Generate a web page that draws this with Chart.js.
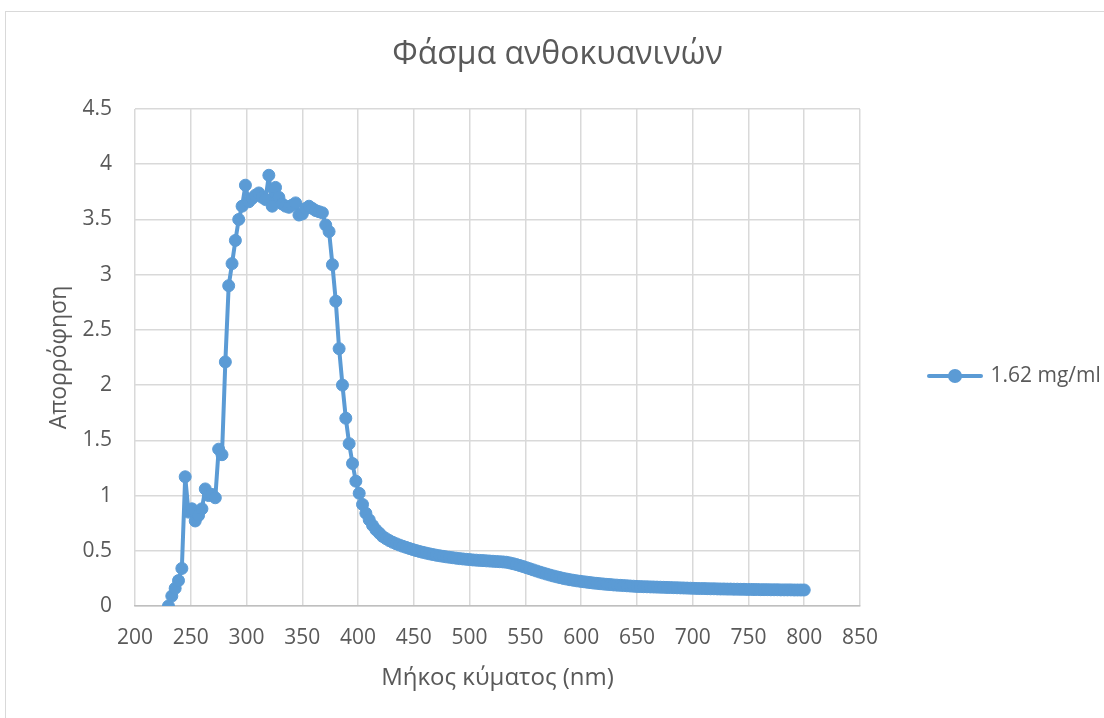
<!DOCTYPE html>
<html>
<head>
<meta charset="utf-8">
<script src="https://cdn.jsdelivr.net/npm/chart.js@4.4.1/dist/chart.umd.min.js"></script>
<style>
  html, body { margin: 0; padding: 0; background: #ffffff; overflow: hidden; }
  #wrap { position: relative; width: 1104px; height: 718px; }
  #frame { position: absolute; left: 5px; top: 11px; width: 1200px; height: 800px; border: 1px solid #d9d9d9; box-sizing: border-box; }
  #c { position: absolute; left: 0; top: 0; }
</style>
</head>
<body>
<div id="wrap">
  <div id="frame"></div>
  <canvas id="c" width="1104" height="718"></canvas>
</div>
<script>
const chartTitle = 'Φάσμα ανθοκυανινών';
const xTitle = 'Μήκος κύματος (nm)';
const yTitle = 'Απορρόφηση';
const seriesName = '1.62 mg/ml';

const wavelengths = [
  230,233,236,239,242,245,248,251,254,257,
  260,263,266,269,272,275,278,281,284,287,
  290,293,296,299,302,305,308,311,314,317,
  320,323,326,329,332,335,338,341,344,347,
  350,353,356,359,362,365,368,371,374,377,
  380,383,386,389,392,395,398,401,404,407,
  410,413,416,419,422,425,428,431,434,437,
  440,443,446,449,452,455,458,461,464,467,
  470,473,476,479,482,485,488,491,494,497,
  500,503,506,509,512,515,518,521,524,527,
  530,533,536,539,542,545,548,551,554,557,
  560,563,566,569,572,575,578,581,584,587,
  590,593,596,599,602,605,608,611,614,617,
  620,623,626,629,632,635,638,641,644,647,
  650,653,656,659,662,665,668,671,674,677,
  680,683,686,689,692,695,698,701,704,707,
  710,713,716,719,722,725,728,731,734,737,
  740,743,746,749,752,755,758,761,764,767,
  770,773,776,779,782,785,788,791,794,797,
  800
];

const absorbance = [
  0.00,0.09,0.16,0.23,0.34,1.17,0.85,0.88,0.77,0.82,
  0.88,1.06,1.00,1.01,0.98,1.42,1.37,2.21,2.90,3.10,
  3.31,3.50,3.62,3.81,3.66,3.69,3.72,3.74,3.70,3.68,
  3.90,3.62,3.79,3.70,3.64,3.62,3.61,3.63,3.65,3.54,
  3.55,3.60,3.62,3.60,3.58,3.57,3.56,3.45,3.39,3.09,
  2.76,2.33,2.00,1.70,1.47,1.29,1.13,1.02,0.92,0.84,
  0.78,0.73,0.69,0.66,0.63,0.61,0.592,0.577,0.564,0.552,
  0.541,0.531,0.521,0.511,0.502,0.494,0.486,0.479,0.472,0.466,
  0.460,0.455,0.450,0.445,0.441,0.437,0.433,0.429,0.426,0.423,
  0.420,0.417,0.415,0.413,0.411,0.409,0.407,0.405,0.403,0.401,
  0.399,0.396,0.390,0.383,0.375,0.366,0.357,0.347,0.337,0.327,
  0.317,0.307,0.298,0.289,0.280,0.272,0.264,0.257,0.250,0.244,
  0.238,0.233,0.228,0.224,0.220,0.216,0.212,0.208,0.205,0.202,
  0.199,0.196,0.194,0.191,0.189,0.187,0.185,0.183,0.181,0.179,
  0.177,0.176,0.175,0.174,0.173,0.172,0.171,0.170,0.169,0.168,
  0.167,0.166,0.165,0.164,0.163,0.162,0.161,0.160,0.159,0.158,
  0.158,0.157,0.156,0.156,0.155,0.154,0.154,0.153,0.153,0.152,
  0.152,0.151,0.151,0.150,0.150,0.149,0.149,0.148,0.148,0.148,
  0.147,0.147,0.147,0.146,0.146,0.146,0.146,0.145,0.145,0.145,
  0.145
];

const xTickLabels = ['200','250','300','350','400','450','500','550','600','650','700','750','800','850'];
const yTickLabels = ['0','0.5','1','1.5','2','2.5','3','3.5','4','4.5'];

const BLUE = '#5b9bd5';
const TEXT = '#595959';
const GRID = '#d9d9d9';
const FONT = "'Open Sans', 'DejaVu Sans', sans-serif";

// legend marker: line with a circle
const marker = document.createElement('canvas');
marker.width = 56; marker.height = 16;
(function () {
  const g = marker.getContext('2d');
  g.strokeStyle = BLUE; g.lineWidth = 4; g.lineCap = 'round';
  g.beginPath(); g.moveTo(2, 8); g.lineTo(54, 8); g.stroke();
  g.fillStyle = BLUE;
  g.beginPath(); g.arc(28, 8, 7, 0, Math.PI * 2); g.fill();
})();

const points = wavelengths.map((w, i) => ({ x: w, y: absorbance[i] }));

new Chart(document.getElementById('c'), {
  type: 'scatter',
  data: {
    datasets: [{
      label: seriesName,
      data: points,
      showLine: true,
      borderColor: BLUE,
      backgroundColor: BLUE,
      borderWidth: 4,
      borderJoinStyle: 'round',
      borderCapStyle: 'round',
      pointRadius: 6,
      pointBorderWidth: 1,
      pointBackgroundColor: BLUE,
      pointBorderColor: BLUE,
      pointHoverRadius: 6,
      tension: 0
    }]
  },
  options: {
    responsive: false,
    animation: false,
    devicePixelRatio: 1,
    layout: { padding: { left: 11, right: 0, top: 0, bottom: 0 } },
    plugins: {
      tooltip: { enabled: false },
      title: {
        display: true,
        text: chartTitle,
        color: TEXT,
        font: { family: FONT, size: 32, weight: '400', lineHeight: 1.2 },
        padding: { top: 35.8, bottom: 34.8 }
      },
      legend: {
        display: true,
        position: 'right',
        align: 'center',
        maxWidth: 244,
        title: { display: true, text: ' ', font: { size: 10, lineHeight: 1 }, padding: { top: 0, bottom: 24 } },
        labels: {
          usePointStyle: true,
          pointStyle: marker,
          pointStyleWidth: 50,
          padding: 70,
          color: TEXT,
          font: { family: FONT, size: 21 }
        }
      }
    },
    scales: {
      x: {
        type: 'linear',
        min: 200, max: 850,
        ticks: {
          stepSize: 50,
          color: TEXT,
          padding: 19,
          maxRotation: 0,
          font: { family: FONT, size: 21 },
          callback: (v) => xTickLabels[Math.round((v - 200) / 50)]
        },
        grid: { color: GRID, lineWidth: 1.5, drawTicks: false },
        border: { display: true, color: '#bfbfbf', width: 1.5 },
        title: {
          display: true, text: xTitle, color: TEXT,
          font: { family: FONT, size: 24 },
          padding: { top: 0, bottom: 25.6 }
        },
        afterFit: (s) => { s.height = 112; }
      },
      y: {
        type: 'linear',
        min: 0, max: 4.5,
        ticks: {
          stepSize: 0.5,
          color: TEXT,
          padding: 23,
          font: { family: FONT, size: 21 },
          callback: (v) => yTickLabels[Math.round(v / 0.5)]
        },
        grid: { color: GRID, lineWidth: 1.5, drawTicks: false },
        border: { display: false },
        title: {
          display: true, text: yTitle, color: TEXT,
          font: { family: FONT, size: 23 },
          padding: { top: 35, bottom: 0 }
        },
        afterFit: (s) => { s.width = 124; }
      }
    }
  }
});
</script>
</body>
</html>
